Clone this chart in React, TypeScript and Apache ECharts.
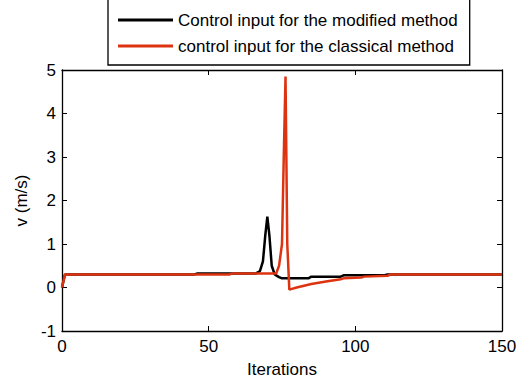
import React, { useEffect, useRef } from "react";
import * as echarts from "echarts";

const xTicks = [0, 50, 100, 150];
const yTicks = [-1, 0, 1, 2, 3, 4, 5];

const modX = [0, 1, 45, 46, 66, 67.5, 68.5, 69.3, 70, 70.7, 71.5, 72.5, 74, 75, 84, 85, 95, 96, 110, 111, 150];
const modY = [0, 0.3, 0.3, 0.32, 0.32, 0.38, 0.6, 1.2, 1.63, 1.2, 0.5, 0.3, 0.24, 0.21, 0.21, 0.25, 0.25, 0.28, 0.28, 0.3, 0.3];

const clsX = [0, 1, 57, 58, 73, 74, 75, 75.6, 76.2, 76.8, 77.5, 80, 85, 90, 95, 96, 102, 103, 111, 112, 150];
const clsY = [0, 0.3, 0.3, 0.32, 0.32, 0.5, 1.0, 3.0, 4.85, 1.0, -0.05, 0.0, 0.08, 0.14, 0.19, 0.21, 0.23, 0.25, 0.27, 0.3, 0.3];

const FONT = "'Liberation Sans', Arial, sans-serif";

export default function App() {
  const ref = useRef<HTMLDivElement>(null);
  useEffect(() => {
    if (!ref.current) return;
    const chart = echarts.init(ref.current, undefined, { renderer: "svg" });
    const axisCommon = {
      type: "value" as const,
      axisLine: { show: true, onZero: false, lineStyle: { color: "#000", width: 1.3 } },
      axisTick: { show: true, inside: true, length: 5, lineStyle: { color: "#000" } },
      splitLine: { show: false },
    };
    chart.setOption({
      animation: false,
      backgroundColor: "#fff",
      textStyle: { fontFamily: FONT },
      grid: { left: 62, right: 18, top: 70, bottom: 51 },
      legend: {
        orient: "vertical",
        left: 108,
        top: -10,
        padding: [21, 12, 10, 10],
        itemGap: 8,
        itemWidth: 55,
        itemHeight: 3,
        icon: "rect",
        borderColor: "#000",
        borderWidth: 1.3,
        backgroundColor: "#fff",
        textStyle: { fontSize: 17, color: "#000", fontFamily: FONT, lineHeight: 18 },
        data: ["Control input for the modified method", "control input for the classical method"],
      },
      xAxis: [
        {
          ...axisCommon,
          min: 0,
          max: 150,
          interval: 50,
          position: "bottom",
          name: "Iterations",
          nameLocation: "middle",
          nameGap: 30,
          nameTextStyle: { fontSize: 17, color: "#000", fontFamily: FONT },
          axisLabel: {
            fontSize: 17,
            color: "#000",
            margin: 7,
            fontFamily: FONT,
            customValues: xTicks,
          },
        },
        {
          ...axisCommon,
          min: 0,
          max: 150,
          interval: 50,
          position: "top",
          axisLabel: { show: false },
        },
      ],
      yAxis: [
        {
          ...axisCommon,
          min: -1,
          max: 5,
          interval: 1,
          position: "left",
          name: "v (m/s)",
          nameLocation: "middle",
          nameGap: 30,
          nameTextStyle: { fontSize: 17, color: "#000", fontFamily: FONT },
          axisLabel: { fontSize: 17, color: "#000", margin: 6, fontFamily: FONT, customValues: yTicks },
        },
        {
          ...axisCommon,
          min: -1,
          max: 5,
          interval: 1,
          position: "right",
          axisLabel: { show: false },
        },
      ],
      series: [
        {
          name: "Control input for the modified method",
          type: "line",
          data: modX.map((x, i) => [x, modY[i]]),
          showSymbol: false,
          symbol: "none",
          lineStyle: { color: "#000", width: 2.5 },
          itemStyle: { color: "#000" },
        },
        {
          name: "control input for the classical method",
          type: "line",
          data: clsX.map((x, i) => [x, clsY[i]]),
          showSymbol: false,
          symbol: "none",
          lineStyle: { color: "#dd3311", width: 2.5 },
          itemStyle: { color: "#dd3311" },
        },
      ],
    });
    return () => chart.dispose();
  }, []);
  return <div ref={ref} style={{ width: 520, height: 383, position: "fixed", left: 0, top: 0 }} />;
}
